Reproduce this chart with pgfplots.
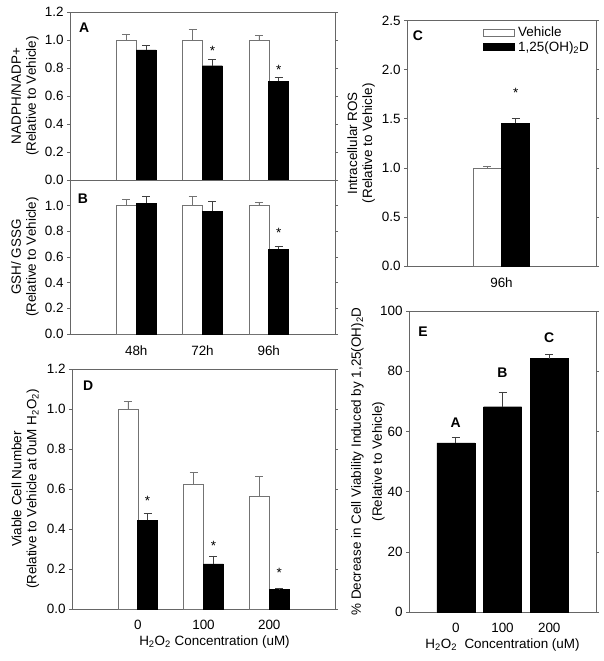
\documentclass[border=0pt]{standalone}
\usepackage{fontspec}
\setmainfont{Liberation Sans}
\usepackage{pgfplots}
\pgfplotsset{compat=1.18}
\newcommand{\fs}{\fontsize{13.5}{15}\selectfont}
\tikzset{
  starnode/.style={font=\fs, yshift=-3bp},
  plabel/.style={font=\fontsize{14}{16}\selectfont\bfseries},
}
\pgfplotsset{
  panel/.style={
    scale only axis, anchor=south west,
    font=\fs,
    axis line style={black!60},
    tick align=outside, major tick length=3bp,
    ytick style={black!60, line width=0.5pt},
    xtick style={draw=none},
    /pgf/number format/assume math mode=true,
    tick label style={font=\fs},
    label style={font=\fs},
    ylabel style={align=center, anchor=center},
    xticklabel style={yshift=-5bp},
    xlabel style={yshift=1bp},
    ymin=0,
    clip=false,
  },
  onedec/.style={yticklabel style={/pgf/number format/.cd, fixed, fixed zerofill, precision=1}},
  vehbar/.style={ybar, bar width=#1, bar shift=0bp, fill=white, draw=black!55,
    error bars/y dir=plus, error bars/y explicit,
    error bars/error bar style={black!55, line width=0.6pt},
    error bars/error mark options={rotate=90, mark size=4bp, black!55, line width=0.6pt}},
  vdbar/.style={ybar, bar width=#1, bar shift=0bp, fill=black, draw=black,
    error bars/y dir=plus, error bars/y explicit,
    error bars/error bar style={black!75, line width=0.6pt},
    error bars/error mark options={rotate=90, mark size=4bp, black!75, line width=0.6pt}},
}
\begin{document}
\begin{tikzpicture}[x=1bp,y=1bp]
\useasboundingbox (0,0) rectangle (604,661);

% ---------------- Panel A ----------------
\begin{axis}[panel, onedec, at={(70bp,481bp)}, width=265bp, height=168bp,
  xmin=-1, xmax=3, ymax=1.2, ytick={0,0.2,0.4,0.6,0.8,1.0,1.2}, xtick=\empty,
  ylabel={NADPH/NADP+\\(Relative to Vehicle)},
  ylabel style={at={(axis description cs:-0.17,0.5)}}]
\addplot[vehbar=20bp] coordinates {(-0.15,1.00) +- (0,0.043) (0.85,1.00) +- (0,0.076) (1.85,1.00) +- (0,0.030)};
\addplot[vdbar=20bp] coordinates {(0.15,0.93) +- (0,0.030) (1.15,0.816) +- (0,0.046) (2.15,0.705) +- (0,0.028)};
\node[starnode] at (axis cs:1.15,0.945) {*};
\node[starnode] at (axis cs:2.15,0.81) {*};
\node[plabel] at (rel axis cs:0.053,0.905) {A};
\end{axis}

% ---------------- Panel B ----------------
\begin{axis}[panel, onedec, at={(70bp,327bp)}, width=265bp, height=154bp,
  xmin=-1, xmax=3, ymax=1.2, ytick={0,0.2,0.4,0.6,0.8,1.0},
  xtick={0,1,2}, xticklabels={48h,72h,96h},
  ylabel={GSH/ GSSG\\(Relative to Vehicle)},
  ylabel style={at={(axis description cs:-0.17,0.5)}}]
\addplot[vehbar=20bp] coordinates {(-0.15,1.00) +- (0,0.05) (0.85,1.00) +- (0,0.075) (1.85,1.00) +- (0,0.026)};
\addplot[vdbar=20bp] coordinates {(0.15,1.02) +- (0,0.05) (1.15,0.955) +- (0,0.078) (2.15,0.66) +- (0,0.026)};
\node[starnode] at (axis cs:2.15,0.81) {*};
\node[plabel] at (rel axis cs:0.049,0.877) {B};
\end{axis}

% ---------------- Panel C ----------------
\begin{axis}[panel, onedec, at={(407bp,395bp)}, width=189bp, height=245.5bp,
  xmin=-1, xmax=1, ymax=2.5, ytick={0,0.5,1.0,1.5,2.0,2.5},
  xtick={0}, xticklabels={96h},
  ylabel={Intracellular ROS\\(Relative to Vehicle)},
  ylabel style={at={(axis description cs:-0.243,0.5)}},
  legend style={draw=none, fill=none, at={(rel axis cs:0.99,0.99)}, anchor=north east,
    font=\fs, row sep=-1bp, /tikz/every odd column/.append style={column sep=2bp}},
  legend cell align=left]
\addplot[vehbar=28bp,
  legend image code/.code={\draw[fill=white, draw=black!55] (0bp,-3.5bp) rectangle (31bp,3.5bp);}]
  coordinates {(-0.15,1.00) +- (0,0.02)};
\addlegendentry{Vehicle}
\addplot[vdbar=28bp,
  legend image code/.code={\draw[fill=black, draw=black] (0bp,-3.5bp) rectangle (31bp,3.5bp);}]
  coordinates {(0.15,1.453) +- (0,0.05)};
\addlegendentry{1,25(OH)\textsubscript{2}D}
\node[starnode] at (axis cs:0.15,1.79) {*};
\node[plabel] at (rel axis cs:0.058,0.94) {C};
\end{axis}

% ---------------- Panel D ----------------
\begin{axis}[panel, onedec, at={(72bp,52bp)}, width=263bp, height=240bp,
  xmin=-1, xmax=3, ymax=1.2, ytick={0,0.2,0.4,0.6,0.8,1.0,1.2},
  xtick={0,1,2}, xticklabels={0,100,200},
  xlabel={H\textsubscript{2}O\textsubscript{2} Concentration (uM)},
  xlabel style={xshift=11bp},
  ylabel={Viable Cell Number\\(Relative to Vehicle at 0uM H\textsubscript{2}O\textsubscript{2})},
  ylabel style={at={(axis description cs:-0.177,0.5)}}]
\addplot[vehbar=20bp] coordinates {(-0.15,1.00) +- (0,0.04) (0.85,0.623) +- (0,0.06) (1.85,0.562) +- (0,0.10)};
\addplot[vdbar=20bp] coordinates {(0.15,0.443) +- (0,0.034) (1.15,0.225) +- (0,0.04) (2.15,0.097) +- (0,0.008)};
\node[starnode] at (axis cs:0.15,0.555) {*};
\node[starnode] at (axis cs:1.15,0.333) {*};
\node[starnode] at (axis cs:2.15,0.197) {*};
\node[plabel] at (rel axis cs:0.061,0.929) {D};
\end{axis}

% ---------------- Panel E ----------------
\begin{axis}[panel, at={(409bp,49bp)}, width=187bp, height=301bp,
  xmin=-1, xmax=3, ymax=100, ytick={0,20,40,60,80,100},
  xtick={0,1,2}, xticklabels={0,100,200},
  xlabel={H\textsubscript{2}O\textsubscript{2}\ \ Concentration (uM)},
  ylabel={\% Decrease in Cell Viability Induced by 1,25(OH)\textsubscript{2}D\\[6bp](Relative to Vehicle)},
  ylabel style={at={(axis description cs:-0.22,0.5)}}]
\addplot[vdbar=38bp] coordinates {(0,56.2) +- (0,1.9) (1,68.2) +- (0,4.9) (2,84.2) +- (0,1.5)};
\node[plabel] at (axis cs:0,62.8) {A};
\node[plabel] at (axis cs:1,79.4) {B};
\node[plabel] at (axis cs:2,91.1) {C};
\node[plabel] at (rel axis cs:0.075,0.93) {E};
\end{axis}
\end{tikzpicture}
\end{document}
